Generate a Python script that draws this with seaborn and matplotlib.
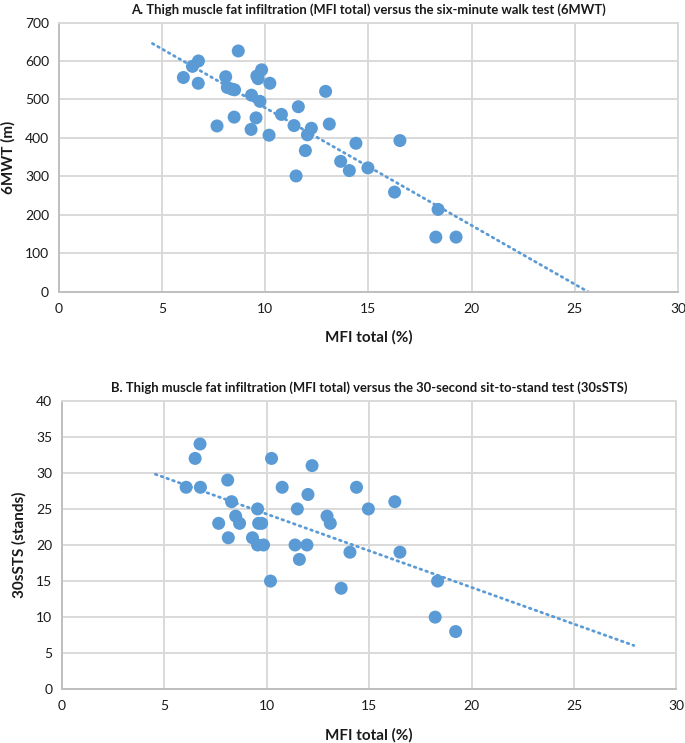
import numpy as np
import pandas as pd
import matplotlib
matplotlib.use("Agg")
import matplotlib.pyplot as plt
import seaborn as sns

# ---- data ----
mfi_a = [8.70, 6.77, 6.48, 6.04, 6.76, 8.09, 9.83, 9.60, 9.66, 10.23, 8.17, 8.38,
         8.52, 9.34, 9.75, 10.79, 11.61, 12.93, 7.67, 8.50, 9.56, 9.32, 10.19, 11.40,
         12.24, 12.05, 13.11, 11.95, 14.40, 11.50, 13.66, 14.08, 14.98, 16.27, 16.53,
         18.38, 18.27, 19.25]
mwt6 = [626, 600, 586, 557, 542, 559, 577, 561, 554, 542, 531, 527,
        525, 511, 495, 461, 481, 521, 431, 454, 452, 422, 407, 432,
        425, 408, 436, 367, 386, 301, 339, 315, 322, 259, 393,
        214, 142, 142]

mfi_b = [6.74, 6.50, 6.06, 6.76, 8.09, 8.28, 8.48, 8.67, 7.65, 8.12, 9.30, 9.55,
         9.84, 9.55, 9.60, 9.75, 10.23, 10.75, 11.49, 12.01, 12.21, 12.94, 13.10,
         11.38, 11.96, 11.59, 14.38, 14.96, 14.06, 10.18, 16.25, 16.50, 13.63,
         18.34, 18.22, 19.22]
sts30 = [34, 32, 28, 28, 29, 26, 24, 23, 23, 21, 21, 20,
         20, 25, 23, 23, 32, 28, 25, 27, 31, 24, 23,
         20, 20, 18, 28, 25, 19, 15, 26, 19, 14,
         15, 10, 8]

title_a = "A. Thigh muscle fat infiltration (MFI total) versus the six-minute walk test (6MWT)"
title_b = "B. Thigh muscle fat infiltration (MFI total) versus the 30-second sit-to-stand test (30sSTS)"
xlabel = "MFI total (%)"
ylabel_a = "6MWT (m)"
ylabel_b = "30sSTS (stands)"
x_ticks = [0, 5, 10, 15, 20, 25, 30]
y_ticks_a = [0, 100, 200, 300, 400, 500, 600, 700]
y_ticks_b = [0, 5, 10, 15, 20, 25, 30, 35, 40]

# ---- style ----
sns.set_theme(style="white")
plt.rcParams['font.family'] = ['Lato', 'DejaVu Sans']

BLUE = "#5B9BD5"
GRID = "#D9D9D9"
TXT = "#1A1A1A"

fig = plt.figure(figsize=(6.85, 7.43), dpi=100)
ax1 = fig.add_axes([0.0857, 0.6074, 0.904, 0.3623])
ax2 = fig.add_axes([0.0905, 0.0723, 0.897, 0.3884])


def panel(ax, x, y, yticks, title, ylabel):
    df = pd.DataFrame({"x": x, "y": y})
    sns.scatterplot(data=df, x="x", y="y", ax=ax, color=BLUE, s=88,
                    edgecolor="none", linewidth=0, zorder=3, clip_on=False)
    # linear trendline (Excel-like forecast backward 1.5, forward 8.7)
    k, b = np.polyfit(df["x"], df["y"], 1)
    xs = np.array([df["x"].min() - 1.5, df["x"].max() + 8.7])
    ax.plot(xs, k * xs + b, color=BLUE, lw=2.0, linestyle=(0, (0.6, 1.6)),
            dash_capstyle="round", zorder=2)
    ax.set_xlim(0, 30)
    ax.set_ylim(yticks[0], yticks[-1])
    ax.set_xticks(x_ticks)
    ax.set_yticks(yticks)
    ax.grid(True, color=GRID, lw=1.4, zorder=0)
    ax.set_axisbelow(True)
    for s in ax.spines.values():
        s.set_visible(True)
        s.set_color(GRID)
        s.set_linewidth(1.4)
    ax.spines['left'].set_color("#BFBFBF")
    ax.spines['bottom'].set_color("#BFBFBF")
    ax.tick_params(axis='both', length=0, labelsize=10, colors=TXT)
    ax.tick_params(axis='y', pad=7)
    ax.tick_params(axis='x', pad=8)
    ax.set_title(title, fontsize=9.4, fontweight='bold', color=TXT, pad=6)
    ax.set_xlabel(xlabel, fontsize=11, fontweight='bold', color=TXT, labelpad=11)
    ax.set_ylabel(ylabel, fontsize=11, fontweight='bold', color=TXT, labelpad=7)


panel(ax1, mfi_a, mwt6, y_ticks_a, title_a, ylabel_a)
panel(ax2, mfi_b, sts30, y_ticks_b, title_b, ylabel_b)

fig.savefig("out.png", dpi=100)
